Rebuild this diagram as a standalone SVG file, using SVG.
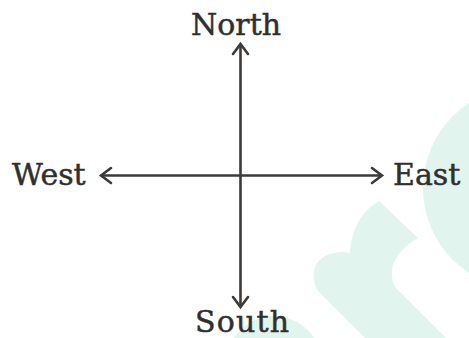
<svg xmlns="http://www.w3.org/2000/svg" width="469" height="338" viewBox="0 0 469 338">
  <style>
    .wm { fill: #e1f4ed; stroke: none; }
    .lbl { font-family: "DejaVu Serif", "Liberation Serif", serif; font-size: 30px; fill: #2f2f2f; stroke: #2f2f2f; stroke-width: 0.5px; }
    .axis { stroke: #3d3a38; stroke-width: 2.6; fill: none; }
  </style>
  <defs>
    <marker id="head" markerWidth="24" markerHeight="24" refX="0" refY="0" viewBox="-14 -12 18 24" markerUnits="userSpaceOnUse" orient="auto-start-reverse">
      <path d="M -10 -7.5 L 0 0 L -10 7.5" fill="none" stroke="#3d3a38" stroke-width="2.6" stroke-linecap="round" stroke-linejoin="miter"/>
    </marker>
  </defs>
  <rect width="469" height="338" fill="#ffffff"/>
  <g id="watermark">
    <circle class="wm" cx="524.5" cy="188" r="101.5"/>
    <path class="wm" d="M 379,201 L 418,238 C 405,245 392,258 392,272 C 392,280 393,285 396,288 L 446,338 L 365,338 L 320,293 C 312,285 312,268 318,262 C 325,253 340,250 350,253 C 351,235 358,213 379,201 Z"/>
    <ellipse class="wm" cx="274" cy="376" rx="52" ry="60"/>
  </g>
  <g id="connectors">
    <line class="axis" x1="240.5" y1="307" x2="240.5" y2="44" marker-start="url(#head)" marker-end="url(#head)"/>
    <line class="axis" x1="101" y1="175.5" x2="382" y2="175.5" marker-start="url(#head)" marker-end="url(#head)"/>
  </g>
  <g id="north"><text class="lbl" x="236" y="35" text-anchor="middle">North</text></g>
  <g id="west"><text class="lbl" x="12" y="185">West</text></g>
  <g id="east"><text class="lbl" x="393" y="185">East</text></g>
  <g id="south"><text class="lbl" x="242" y="332" text-anchor="middle" textLength="94">South</text></g>
</svg>
